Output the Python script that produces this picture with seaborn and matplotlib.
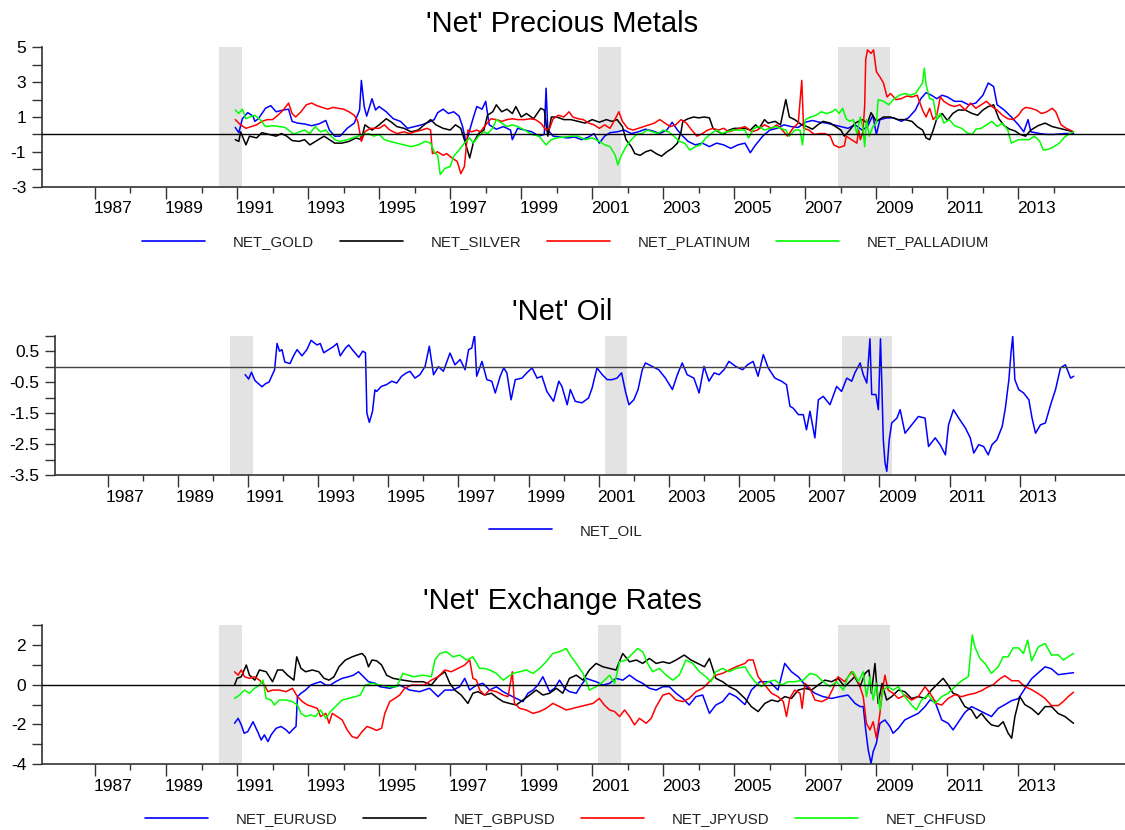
import matplotlib
matplotlib.use("Agg")
import matplotlib.pyplot as plt
import pandas as pd
import seaborn as sns
from matplotlib.lines import Line2D

sns.set_theme(style="ticks")
plt.rcParams['font.family'] = ['Liberation Sans', 'DejaVu Sans']
plt.rcParams['axes.unicode_minus'] = False

# ---------------- data (year, value) ----------------
RECESSION_START = [1990.5, 2001.17, 2007.92]
RECESSION_END = [1991.13, 2001.8, 2009.37]
TICK_YEARS_MAJOR = list(range(1987, 2014, 2))
TICK_YEARS_MINOR = list(range(1988, 2015, 2))
LABEL_YEARS = list(range(1987, 2014, 2))

NET_GOLD = [(1990.95,0.4),(1991.05,0.1),(1991.15,0.9),(1991.3,1.25),(1991.45,1.05),(1991.5,0.75),(1991.6,0.9),(1991.8,1.5),(1991.95,1.65),(1992.1,1.3),(1992.3,1.4),(1992.45,1.45),(1992.55,0.75),(1992.7,0.65),(1992.9,0.6),(1993.1,0.5),(1993.3,0.6),(1993.5,0.8),(1993.6,0.25),(1993.75,-0.1),(1993.9,-0.1),(1994.1,0.35),(1994.3,0.65),(1994.45,1.4),(1994.5,3.1),(1994.58,1.6),(1994.65,1.05),(1994.8,2.05),(1994.9,1.4),(1995.0,1.6),(1995.2,1.3),(1995.4,0.9),(1995.6,0.75),(1995.8,0.35),(1996.0,0.45),(1996.2,0.55),(1996.4,0.7),(1996.55,0.85),(1996.65,1.25),(1996.8,1.45),(1996.95,1.2),(1997.1,1.3),(1997.25,1.05),(1997.35,0.45),(1997.45,-0.5),(1997.55,0.25),(1997.65,0.95),(1997.75,1.6),(1997.9,1.45),(1998.0,1.9),(1998.1,0.55),(1998.3,0.3),(1998.5,0.45),(1998.7,0.25),(1998.75,-0.3),(1998.9,0.35),(1999.1,0.25),(1999.3,0.15),(1999.5,-0.1),(1999.65,0.0),(1999.7,2.65),(1999.75,0.25),(1999.9,-0.1),(2000.1,-0.15),(2000.3,-0.2),(2000.5,-0.15),(2000.7,-0.3),(2000.9,-0.15),(2001.05,0.05),(2001.2,-0.5),(2001.35,-0.1),(2001.5,0.1),(2001.7,0.15),(2001.9,0.25),(2002.1,0.05),(2002.3,0.15),(2002.5,0.3),(2002.7,0.2),(2002.9,0.05),(2003.1,0.25),(2003.25,0.7),(2003.4,0.25),(2003.55,-0.1),(2003.7,-0.4),(2003.9,-0.6),(2004.1,-0.5),(2004.3,-0.7),(2004.5,-0.5),(2004.7,-0.6),(2004.9,-0.8),(2005.1,-0.6),(2005.3,-0.5),(2005.45,-1.05),(2005.6,-0.6),(2005.8,-0.1),(2006.0,0.25),(2006.2,0.35),(2006.4,0.55),(2006.6,0.45),(2006.8,0.4),(2007.0,0.7),(2007.2,0.8),(2007.4,0.7),(2007.6,0.65),(2007.8,0.55),(2008.0,0.45),(2008.2,0.35),(2008.4,0.55),(2008.6,0.25),(2008.75,0.45),(2008.9,1.1),(2009.0,0.0),(2009.1,0.85),(2009.3,0.95),(2009.5,0.95),(2009.7,0.75),(2009.9,0.95),(2010.1,1.4),(2010.25,2.05),(2010.4,2.4),(2010.55,2.25),(2010.7,2.05),(2010.85,2.25),(2011.0,2.15),(2011.2,1.9),(2011.4,1.9),(2011.6,1.7),(2011.8,1.8),(2012.0,2.25),(2012.15,2.95),(2012.3,2.75),(2012.4,1.7),(2012.6,1.4),(2012.8,1.0),(2013.0,0.55),(2013.15,0.15),(2013.27,0.85),(2013.35,0.15),(2013.6,0.05),(2013.8,0.0),(2014.0,0.0),(2014.3,0.05),(2014.55,0.05)]
NET_SILVER = [(1990.95,-0.3),(1991.05,-0.4),(1991.1,0.15),(1991.25,-0.6),(1991.35,-0.1),(1991.55,-0.2),(1991.7,0.1),(1991.9,0.0),(1992.1,-0.1),(1992.25,0.05),(1992.4,-0.1),(1992.55,-0.35),(1992.75,-0.4),(1992.9,-0.3),(1993.05,-0.6),(1993.25,-0.35),(1993.45,-0.1),(1993.6,-0.3),(1993.75,-0.5),(1993.95,-0.5),(1994.15,-0.4),(1994.35,-0.2),(1994.5,-0.3),(1994.6,0.55),(1994.8,0.25),(1995.0,0.55),(1995.2,0.9),(1995.35,0.7),(1995.5,0.45),(1995.7,0.35),(1995.9,0.15),(1996.1,0.25),(1996.3,0.6),(1996.45,0.85),(1996.6,0.55),(1996.8,0.35),(1997.0,0.25),(1997.15,0.55),(1997.3,0.35),(1997.4,-0.3),(1997.55,-1.35),(1997.65,-0.5),(1997.8,0.05),(1997.95,0.25),(1998.05,1.1),(1998.2,1.3),(1998.3,1.7),(1998.45,1.3),(1998.6,1.45),(1998.75,1.2),(1998.85,1.6),(1999.0,1.0),(1999.15,1.2),(1999.35,0.9),(1999.55,1.5),(1999.65,1.4),(1999.75,-0.1),(1999.85,1.0),(2000.0,1.0),(2000.2,0.85),(2000.4,0.85),(2000.6,0.75),(2000.8,0.65),(2001.0,0.85),(2001.2,0.7),(2001.4,0.85),(2001.55,0.75),(2001.7,0.85),(2001.85,0.45),(2001.95,-0.3),(2002.1,-0.7),(2002.2,-1.1),(2002.35,-1.2),(2002.5,-1.0),(2002.65,-0.9),(2002.8,-1.1),(2002.95,-1.25),(2003.1,-1.0),(2003.25,-0.8),(2003.4,-0.5),(2003.5,0.15),(2003.55,0.75),(2003.7,0.9),(2003.85,1.0),(2004.0,0.95),(2004.15,1.0),(2004.3,0.95),(2004.4,0.35),(2004.55,0.15),(2004.7,0.0),(2004.85,0.25),(2005.0,0.35),(2005.3,0.35),(2005.45,0.25),(2005.6,0.55),(2005.7,0.35),(2005.85,0.85),(2005.95,0.65),(2006.15,0.75),(2006.3,0.55),(2006.45,2.0),(2006.55,1.0),(2006.7,0.85),(2006.9,0.55),(2007.05,0.45),(2007.2,0.3),(2007.35,0.55),(2007.5,0.75),(2007.7,0.65),(2007.85,0.45),(2008.0,0.25),(2008.1,-0.1),(2008.25,0.25),(2008.4,0.65),(2008.6,0.85),(2008.75,0.65),(2008.85,1.25),(2009.0,0.75),(2009.2,1.0),(2009.4,1.0),(2009.6,0.85),(2009.8,0.85),(2010.0,0.75),(2010.15,0.45),(2010.3,0.25),(2010.4,-0.2),(2010.5,-0.3),(2010.6,0.25),(2010.7,0.9),(2010.85,1.2),(2011.0,0.8),(2011.15,1.2),(2011.3,1.4),(2011.5,1.4),(2011.7,1.2),(2011.85,1.1),(2012.0,1.4),(2012.15,1.6),(2012.3,1.7),(2012.45,0.9),(2012.6,0.5),(2012.75,0.3),(2012.9,0.2),(2013.05,0.0),(2013.2,-0.1),(2013.35,0.25),(2013.55,0.5),(2013.75,0.65),(2013.95,0.45),(2014.15,0.35),(2014.35,0.25),(2014.55,0.15)]
NET_PLATINUM = [(1990.95,0.85),(1991.1,0.55),(1991.25,0.35),(1991.4,0.45),(1991.55,0.55),(1991.7,0.75),(1991.85,0.85),(1992.0,0.85),(1992.15,1.1),(1992.3,1.4),(1992.45,1.8),(1992.55,1.2),(1992.65,1.0),(1992.8,1.3),(1992.95,1.7),(1993.1,1.8),(1993.25,1.65),(1993.4,1.55),(1993.55,1.45),(1993.7,1.55),(1993.85,1.5),(1994.0,1.45),(1994.15,1.3),(1994.3,1.1),(1994.4,0.75),(1994.5,-0.4),(1994.6,0.15),(1994.75,0.35),(1995.0,0.35),(1995.15,0.55),(1995.3,0.25),(1995.5,0.05),(1995.7,0.15),(1995.85,0.05),(1996.0,0.15),(1996.2,0.25),(1996.35,0.35),(1996.45,0.25),(1996.5,-1.1),(1996.65,-1.0),(1996.8,-1.2),(1996.9,-1.1),(1997.05,-1.35),(1997.2,-1.55),(1997.3,-2.25),(1997.4,-1.85),(1997.5,0.25),(1997.6,0.15),(1997.75,0.25),(1997.85,0.15),(1998.0,0.55),(1998.15,0.9),(1998.3,0.85),(1998.45,0.75),(1998.6,0.85),(1998.75,0.9),(1998.9,0.85),(1999.1,0.85),(1999.25,0.9),(1999.4,0.85),(1999.55,0.65),(1999.7,0.25),(1999.8,0.35),(1999.9,0.9),(2000.05,1.1),(2000.2,1.0),(2000.35,1.3),(2000.45,1.0),(2000.6,0.9),(2000.75,0.85),(2000.9,0.65),(2001.05,0.55),(2001.2,0.35),(2001.35,0.55),(2001.5,0.35),(2001.65,0.9),(2001.75,1.3),(2001.85,0.75),(2002.0,0.35),(2002.15,0.25),(2002.3,0.35),(2002.45,0.45),(2002.6,0.55),(2002.75,0.65),(2002.9,0.85),(2003.05,0.65),(2003.2,0.45),(2003.35,0.55),(2003.5,0.85),(2003.65,0.65),(2003.8,0.25),(2003.95,-0.1),(2004.1,0.05),(2004.25,0.25),(2004.4,0.35),(2004.55,0.25),(2004.7,0.35),(2004.85,0.15),(2005.0,0.25),(2005.3,0.45),(2005.5,0.15),(2005.65,0.25),(2005.85,0.55),(2006.05,0.35),(2006.2,0.55),(2006.35,0.25),(2006.5,-0.1),(2006.65,0.35),(2006.8,0.65),(2006.9,3.1),(2006.95,0.35),(2007.1,0.25),(2007.25,0.0),(2007.4,0.05),(2007.55,0.05),(2007.7,-0.1),(2007.8,-0.6),(2007.95,-0.75),(2008.1,-0.65),(2008.15,-0.1),(2008.3,-0.3),(2008.45,-0.5),(2008.5,0.25),(2008.55,-0.3),(2008.62,0.15),(2008.67,1.6),(2008.7,4.3),(2008.75,4.85),(2008.85,4.65),(2008.92,4.85),(2009.0,3.6),(2009.1,3.3),(2009.2,2.95),(2009.3,2.15),(2009.4,2.35),(2009.55,2.0),(2009.7,2.05),(2009.85,2.2),(2010.0,2.15),(2010.15,2.25),(2010.3,1.4),(2010.4,1.0),(2010.5,1.5),(2010.6,0.85),(2010.7,1.1),(2010.8,2.15),(2010.9,1.9),(2011.05,1.7),(2011.2,1.6),(2011.35,1.7),(2011.5,1.4),(2011.65,1.8),(2011.8,1.5),(2011.95,1.7),(2012.1,1.9),(2012.25,1.6),(2012.4,1.4),(2012.55,1.1),(2012.7,0.9),(2012.85,0.85),(2013.0,1.1),(2013.1,1.4),(2013.2,1.55),(2013.35,1.5),(2013.5,1.4),(2013.65,1.2),(2013.8,1.3),(2013.95,1.5),(2014.05,1.3),(2014.2,0.55),(2014.35,0.35),(2014.55,0.15)]
NET_PALLADIUM = [(1990.95,1.4),(1991.0,1.3),(1991.05,1.2),(1991.15,1.45),(1991.25,0.9),(1991.35,1.0),(1991.5,1.1),(1991.65,0.85),(1991.8,0.45),(1992.0,0.5),(1992.2,0.45),(1992.35,0.4),(1992.45,0.25),(1992.6,0.0),(1992.75,0.15),(1992.9,0.25),(1993.05,0.05),(1993.2,0.45),(1993.35,0.15),(1993.5,0.25),(1993.6,0.0),(1993.75,-0.3),(1993.9,-0.4),(1994.1,-0.3),(1994.25,-0.2),(1994.4,-0.1),(1994.55,0.0),(1994.7,0.05),(1994.85,-0.1),(1995.0,0.0),(1995.15,-0.3),(1995.3,-0.4),(1995.5,-0.5),(1995.7,-0.6),(1995.9,-0.7),(1996.1,-0.6),(1996.3,-0.4),(1996.45,-0.5),(1996.55,-1.0),(1996.65,-1.2),(1996.72,-2.3),(1996.85,-1.95),(1997.0,-1.85),(1997.1,-1.25),(1997.25,-0.9),(1997.4,-0.5),(1997.55,-0.2),(1997.65,-0.5),(1997.8,-0.1),(1997.95,0.15),(1998.05,0.05),(1998.2,0.35),(1998.3,0.85),(1998.45,0.65),(1998.6,0.45),(1998.75,0.55),(1998.9,0.45),(1999.1,0.25),(1999.3,0.0),(1999.5,-0.1),(1999.7,-0.6),(1999.85,-0.3),(2000.0,-0.2),(2000.2,-0.15),(2000.4,-0.1),(2000.6,-0.1),(2000.8,-0.3),(2001.0,-0.2),(2001.2,-0.4),(2001.35,-0.6),(2001.5,-0.7),(2001.65,-1.2),(2001.72,-1.75),(2001.8,-1.3),(2001.95,-0.7),(2002.1,-0.3),(2002.25,0.0),(2002.4,0.05),(2002.55,0.25),(2002.7,0.15),(2002.85,0.05),(2003.0,0.25),(2003.15,0.15),(2003.3,-0.1),(2003.45,-0.4),(2003.6,-0.5),(2003.75,-0.9),(2003.9,-0.7),(2004.05,-0.6),(2004.2,-0.2),(2004.35,0.05),(2004.5,0.25),(2004.65,0.05),(2004.8,0.15),(2004.95,0.25),(2005.3,0.25),(2005.4,-0.2),(2005.55,0.35),(2005.7,0.45),(2005.85,0.25),(2006.0,0.35),(2006.15,0.45),(2006.3,0.35),(2006.45,0.25),(2006.55,-0.1),(2006.7,0.25),(2006.85,0.25),(2006.92,-0.6),(2007.0,0.85),(2007.15,1.0),(2007.3,1.1),(2007.45,1.3),(2007.6,1.2),(2007.75,1.3),(2007.85,1.45),(2007.95,1.2),(2008.05,1.5),(2008.15,0.9),(2008.25,0.75),(2008.35,0.85),(2008.45,0.05),(2008.55,1.0),(2008.62,0.35),(2008.67,-0.7),(2008.72,0.85),(2008.8,-0.1),(2008.9,0.45),(2009.0,0.65),(2009.05,2.0),(2009.2,1.9),(2009.35,1.7),(2009.5,2.05),(2009.65,2.25),(2009.8,2.35),(2009.95,2.25),(2010.1,2.35),(2010.2,2.65),(2010.3,2.95),(2010.35,3.8),(2010.4,2.85),(2010.5,2.05),(2010.6,2.0),(2010.7,0.85),(2010.8,1.2),(2010.9,0.65),(2011.05,0.85),(2011.2,0.5),(2011.4,0.35),(2011.55,0.1),(2011.7,0.0),(2011.8,0.3),(2011.95,0.35),(2012.1,0.55),(2012.25,0.75),(2012.4,0.45),(2012.55,0.65),(2012.7,0.25),(2012.8,-0.5),(2013.0,-0.3),(2013.15,-0.3),(2013.3,-0.3),(2013.45,-0.1),(2013.6,-0.4),(2013.7,-0.9),(2013.85,-0.85),(2014.0,-0.7),(2014.15,-0.5),(2014.3,-0.15),(2014.45,0.05),(2014.55,0.15)]

NET_OIL = [(1990.92,-0.26),(1991.02,-0.4),(1991.1,-0.18),(1991.2,-0.45),(1991.4,-0.65),(1991.5,-0.55),(1991.6,-0.5),(1991.68,-0.3),(1991.76,-0.1),(1991.83,0.75),(1991.9,0.5),(1991.97,0.55),(1992.05,0.15),(1992.2,0.1),(1992.3,0.35),(1992.4,0.55),(1992.54,0.35),(1992.68,0.55),(1992.8,0.85),(1992.97,0.7),(1993.06,0.75),(1993.16,0.45),(1993.3,0.55),(1993.44,0.65),(1993.54,0.75),(1993.63,0.35),(1993.78,0.6),(1993.87,0.7),(1994.01,0.5),(1994.16,0.3),(1994.27,0.5),(1994.35,0.45),(1994.39,-1.5),(1994.46,-1.8),(1994.55,-1.45),(1994.62,-0.75),(1994.67,-0.8),(1994.8,-0.64),(1994.95,-0.58),(1995.1,-0.47),(1995.24,-0.53),(1995.38,-0.31),(1995.52,-0.2),(1995.62,-0.15),(1995.76,-0.37),(1995.9,-0.26),(1996.05,0.01),(1996.17,0.66),(1996.29,-0.26),(1996.43,0.0),(1996.57,-0.15),(1996.76,0.44),(1996.9,0.06),(1997.05,0.23),(1997.19,-0.1),(1997.29,0.55),(1997.38,0.6),(1997.46,1.03),(1997.52,-0.31),(1997.67,0.17),(1997.81,-0.42),(1997.95,-0.47),(1998.05,-0.85),(1998.19,-0.31),(1998.29,-0.04),(1998.38,-0.2),(1998.5,-1.07),(1998.62,-0.42),(1998.81,-0.37),(1998.95,-0.2),(1999.1,-0.04),(1999.24,-0.37),(1999.38,-0.31),(1999.52,-0.8),(1999.71,-1.12),(1999.86,-0.47),(1999.95,-0.64),(2000.1,-1.23),(2000.19,-0.74),(2000.33,-1.12),(2000.52,-1.17),(2000.71,-1.01),(2000.81,-0.69),(2000.95,-0.04),(2001.1,-0.26),(2001.24,-0.42),(2001.38,-0.42),(2001.52,-0.37),(2001.65,-0.2),(2001.76,-0.8),(2001.86,-1.23),(2002.0,-1.07),(2002.12,-0.74),(2002.24,-0.1),(2002.33,0.12),(2002.52,0.01),(2002.71,-0.1),(2002.9,-0.37),(2003.1,-0.74),(2003.24,-0.26),(2003.38,0.12),(2003.52,-0.26),(2003.71,-0.37),(2003.86,-0.85),(2004.0,0.01),(2004.14,-0.47),(2004.29,-0.2),(2004.43,-0.26),(2004.57,-0.1),(2004.71,0.17),(2004.9,0.01),(2005.1,-0.1),(2005.24,0.06),(2005.4,0.17),(2005.54,-0.31),(2005.69,0.39),(2005.83,-0.04),(2006.02,-0.37),(2006.21,-0.47),(2006.35,-0.58),(2006.45,-1.28),(2006.54,-1.34),(2006.69,-1.55),(2006.83,-1.55),(2006.92,-2.04),(2007.02,-1.44),(2007.16,-2.3),(2007.26,-1.07),(2007.4,-0.96),(2007.59,-1.23),(2007.78,-0.64),(2007.92,-0.8),(2008.07,-0.37),(2008.21,-0.47),(2008.3,-0.2),(2008.45,0.12),(2008.54,-0.26),(2008.64,-0.53),(2008.73,0.9),(2008.78,-0.9),(2008.9,-0.9),(2008.97,-1.39),(2009.03,0.9),(2009.07,-0.64),(2009.11,-2.36),(2009.16,-3.11),(2009.21,-3.38),(2009.28,-2.36),(2009.35,-1.82),(2009.5,-1.66),(2009.59,-1.39),(2009.73,-2.15),(2009.92,-1.88),(2010.11,-1.61),(2010.3,-1.66),(2010.4,-2.58),(2010.59,-2.3),(2010.73,-2.52),(2010.88,-2.85),(2010.97,-1.88),(2011.11,-1.39),(2011.26,-1.66),(2011.45,-1.98),(2011.59,-2.3),(2011.69,-2.79),(2011.83,-2.52),(2011.97,-2.58),(2012.1,-2.85),(2012.21,-2.52),(2012.35,-2.36),(2012.5,-1.93),(2012.59,-1.34),(2012.69,-0.42),(2012.75,0.44),(2012.8,0.98),(2012.86,-0.42),(2012.97,-0.74),(2013.11,-0.85),(2013.26,-1.07),(2013.35,-1.66),(2013.45,-2.15),(2013.59,-1.88),(2013.73,-1.82),(2013.88,-1.23),(2014.02,-0.74),(2014.16,-0.04),(2014.3,0.06),(2014.45,-0.37),(2014.54,-0.31)]

NET_EURUSD = [(1990.93,-1.94),(1991.03,-1.69),(1991.12,-2.02),(1991.2,-2.44),(1991.3,-2.36),(1991.45,-1.86),(1991.6,-2.44),(1991.68,-2.78),(1991.77,-2.52),(1991.87,-2.86),(1991.96,-2.52),(1992.1,-2.19),(1992.24,-2.1),(1992.38,-2.27),(1992.47,-2.44),(1992.56,-2.27),(1992.66,-2.1),(1992.7,-0.6),(1992.8,-0.43),(1992.93,-0.27),(1993.07,-0.02),(1993.21,0.07),(1993.35,0.15),(1993.5,-0.02),(1993.63,-0.02),(1993.77,0.15),(1993.96,0.32),(1994.14,0.4),(1994.28,0.48),(1994.42,0.65),(1994.56,0.4),(1994.7,0.15),(1994.89,0.07),(1995.02,-0.1),(1995.3,-0.18),(1995.58,-0.02),(1995.86,-0.27),(1996.14,-0.35),(1996.42,-0.18),(1996.66,-0.6),(1996.85,-0.27),(1997.08,-0.27),(1997.27,-0.1),(1997.41,0.32),(1997.55,-0.27),(1997.74,-0.02),(1997.92,0.07),(1998.11,-0.27),(1998.3,-0.1),(1998.49,-0.35),(1998.67,-0.52),(1998.86,-0.69),(1999.05,-0.85),(1999.19,-0.43),(1999.33,-0.27),(1999.47,-0.02),(1999.61,0.4),(1999.8,-0.35),(1999.94,-0.18),(2000.08,0.23),(2000.22,-0.18),(2000.36,-0.35),(2000.55,-0.43),(2000.69,-0.02),(2000.83,0.32),(2000.97,0.23),(2001.11,0.15),(2001.3,-0.02),(2001.49,0.07),(2001.67,0.32),(2001.86,0.23),(2002.05,0.48),(2002.24,0.23),(2002.42,0.07),(2002.61,-0.18),(2002.8,-0.27),(2002.99,-0.1),(2003.17,-0.1),(2003.36,-0.43),(2003.55,-0.69),(2003.73,-1.02),(2003.92,-0.6),(2004.11,-0.52),(2004.3,-1.44),(2004.48,-1.02),(2004.67,-0.85),(2004.86,-0.43),(2005.05,-0.6),(2005.3,-1.0),(2005.48,-0.27),(2005.72,0.15),(2006.0,0.15),(2006.23,-0.27),(2006.42,1.07),(2006.61,0.65),(2006.8,0.4),(2007.03,-0.1),(2007.27,-0.43),(2007.5,-0.6),(2007.74,-0.69),(2007.97,-0.6),(2008.2,-0.52),(2008.4,-0.94),(2008.54,-1.1),(2008.63,-1.1),(2008.7,-2.27),(2008.77,-3.28),(2008.85,-3.95),(2008.91,-3.36),(2009.0,-2.94),(2009.1,-1.94),(2009.24,-1.77),(2009.38,-2.1),(2009.47,-2.44),(2009.62,-2.19),(2009.8,-1.77),(2009.99,-1.6),(2010.18,-1.44),(2010.37,-1.1),(2010.51,-0.77),(2010.65,-0.85),(2010.84,-1.77),(2011.02,-1.94),(2011.16,-2.27),(2011.3,-1.9),(2011.49,-1.4),(2011.68,-1.1),(2011.87,-1.27),(2012.06,-1.44),(2012.24,-1.6),(2012.43,-1.19),(2012.62,-1.0),(2012.81,-0.8),(2013.0,-0.7),(2013.18,-0.2),(2013.37,0.3),(2013.56,0.6),(2013.75,0.9),(2013.93,0.8),(2014.12,0.5),(2014.31,0.55),(2014.55,0.6)]
NET_GBPUSD = [(1990.93,-0.02),(1991.0,0.32),(1991.12,0.4),(1991.26,0.99),(1991.35,0.48),(1991.5,0.23),(1991.63,0.74),(1991.82,0.65),(1992.0,0.15),(1992.14,0.74),(1992.28,0.74),(1992.42,0.48),(1992.6,0.23),(1992.68,1.4),(1992.8,0.82),(1992.93,0.65),(1993.12,0.74),(1993.3,0.65),(1993.45,0.32),(1993.59,0.23),(1993.73,0.4),(1993.87,0.9),(1994.05,1.24),(1994.24,1.4),(1994.38,1.49),(1994.52,1.57),(1994.61,1.4),(1994.7,0.9),(1994.8,1.24),(1994.93,1.2),(1995.07,0.99),(1995.21,0.48),(1995.39,0.32),(1995.67,0.23),(1995.96,0.15),(1996.24,0.15),(1996.47,-0.02),(1996.66,0.4),(1996.85,0.65),(1996.99,0.07),(1997.13,-0.27),(1997.31,-0.52),(1997.5,-0.94),(1997.64,-0.43),(1997.78,-0.35),(1997.97,-0.52),(1998.16,-0.43),(1998.35,-0.69),(1998.49,-0.85),(1998.67,-0.94),(1998.86,-1.02),(1999.05,-0.77),(1999.24,-0.52),(1999.42,-0.27),(1999.61,-0.52),(1999.8,-0.43),(1999.99,-0.18),(2000.17,-0.43),(2000.36,0.32),(2000.55,0.48),(2000.74,0.23),(2000.92,0.74),(2001.11,1.07),(2001.3,0.9),(2001.49,0.82),(2001.67,0.74),(2001.86,1.57),(2002.05,1.15),(2002.24,1.24),(2002.42,1.07),(2002.61,1.32),(2002.8,1.07),(2002.99,1.15),(2003.17,1.07),(2003.36,1.24),(2003.59,1.49),(2003.78,1.24),(2003.97,1.07),(2004.16,0.9),(2004.3,1.32),(2004.48,0.32),(2004.67,0.15),(2004.86,-0.1),(2005.05,-0.27),(2005.3,-0.69),(2005.48,-1.1),(2005.67,-1.35),(2005.86,-0.94),(2006.05,-0.77),(2006.23,-0.85),(2006.42,-0.6),(2006.61,-0.69),(2006.8,-0.27),(2006.99,-0.18),(2007.17,-0.27),(2007.36,-0.02),(2007.55,0.23),(2007.74,0.15),(2007.92,0.32),(2008.11,-0.1),(2008.25,0.15),(2008.39,0.4),(2008.54,-0.1),(2008.68,0.57),(2008.79,0.74),(2008.86,-0.43),(2008.96,1.07),(2009.05,-0.94),(2009.16,0.07),(2009.29,-0.77),(2009.43,-0.6),(2009.62,-0.27),(2009.8,-0.35),(2009.99,-0.69),(2010.18,-0.6),(2010.37,-0.69),(2010.55,-0.27),(2010.74,0.07),(2010.88,0.32),(2011.02,-0.02),(2011.16,-0.43),(2011.3,-0.52),(2011.49,-1.1),(2011.68,-1.27),(2011.82,-1.69),(2011.96,-1.44),(2012.1,-1.77),(2012.24,-2.02),(2012.43,-2.1),(2012.57,-1.86),(2012.71,-2.44),(2012.81,-2.69),(2012.9,-1.6),(2013.04,-0.6),(2013.18,-1.0),(2013.37,-1.2),(2013.56,-1.5),(2013.75,-1.1),(2013.93,-1.1),(2014.12,-1.45),(2014.31,-1.6),(2014.55,-1.94)]
NET_JPYUSD = [(1990.93,0.65),(1991.03,0.48),(1991.12,0.74),(1991.21,0.4),(1991.35,0.32),(1991.49,0.4),(1991.63,0.23),(1991.77,-0.02),(1991.87,-0.35),(1992.0,-0.27),(1992.19,-0.27),(1992.38,-0.35),(1992.56,-0.18),(1992.7,-0.6),(1992.84,-0.85),(1992.98,-1.02),(1993.12,-1.1),(1993.26,-1.19),(1993.35,-1.6),(1993.5,-1.44),(1993.59,-1.94),(1993.68,-1.44),(1993.82,-1.6),(1993.96,-1.77),(1994.1,-2.27),(1994.24,-2.61),(1994.38,-2.69),(1994.52,-2.36),(1994.66,-2.1),(1994.8,-2.19),(1994.93,-2.3),(1995.07,-2.19),(1995.16,-1.44),(1995.3,-0.85),(1995.44,-0.69),(1995.58,-0.52),(1995.72,-0.18),(1995.91,-0.02),(1996.1,-0.02),(1996.28,-0.02),(1996.47,0.23),(1996.66,0.4),(1996.85,0.74),(1997.03,0.65),(1997.22,0.82),(1997.41,0.99),(1997.55,1.24),(1997.64,0.32),(1997.74,0.23),(1997.83,-0.27),(1997.97,-0.52),(1998.11,-0.27),(1998.3,-0.35),(1998.49,-0.52),(1998.63,-0.6),(1998.75,0.65),(1998.81,-0.94),(1998.96,-1.19),(1999.14,-1.27),(1999.33,-1.44),(1999.52,-1.35),(1999.7,-1.19),(1999.89,-0.94),(2000.08,-1.1),(2000.27,-1.27),(2000.45,-1.19),(2000.64,-1.1),(2000.83,-1.02),(2001.02,-0.94),(2001.2,-0.69),(2001.34,-1.02),(2001.49,-1.27),(2001.63,-1.35),(2001.77,-1.6),(2001.91,-1.27),(2002.05,-1.6),(2002.19,-2.02),(2002.33,-1.69),(2002.52,-1.94),(2002.66,-1.69),(2002.8,-1.1),(2002.99,-0.52),(2003.17,-0.43),(2003.36,-0.77),(2003.55,-0.85),(2003.73,-0.69),(2003.92,-0.35),(2004.11,-0.18),(2004.3,0.15),(2004.48,0.48),(2004.67,0.57),(2004.86,0.74),(2005.05,0.9),(2005.3,1.07),(2005.39,1.24),(2005.53,1.24),(2005.67,0.4),(2005.86,-0.02),(2006.05,-0.43),(2006.23,-0.6),(2006.38,-0.85),(2006.47,-1.6),(2006.56,-0.69),(2006.7,-0.27),(2006.85,-0.43),(2006.91,-1.19),(2006.99,0.07),(2007.13,-0.18),(2007.27,-0.77),(2007.46,-0.85),(2007.64,-0.69),(2007.78,-0.18),(2007.92,0.4),(2008.11,0.15),(2008.3,0.65),(2008.49,0.15),(2008.63,-0.6),(2008.72,-1.94),(2008.82,-2.27),(2008.91,-1.86),(2009.0,-2.69),(2009.1,-1.44),(2009.16,-0.43),(2009.24,0.48),(2009.33,-0.27),(2009.47,-0.43),(2009.62,-0.69),(2009.8,-0.52),(2009.99,-0.77),(2010.18,-0.6),(2010.37,-0.1),(2010.51,-0.43),(2010.69,-0.94),(2010.84,-1.02),(2011.02,-0.69),(2011.21,-0.5),(2011.4,-0.6),(2011.59,-0.5),(2011.78,-0.43),(2011.96,-0.3),(2012.15,-0.1),(2012.29,0.0),(2012.48,0.3),(2012.62,0.45),(2012.81,0.2),(2013.0,0.2),(2013.18,-0.1),(2013.37,-0.25),(2013.56,-0.45),(2013.75,-0.69),(2013.93,-1.05),(2014.12,-1.05),(2014.26,-0.85),(2014.4,-0.6),(2014.55,-0.38)]
NET_CHFUSD = [(1990.93,-0.69),(1991.07,-0.52),(1991.21,-0.27),(1991.35,-0.43),(1991.49,-0.18),(1991.63,-0.02),(1991.73,0.23),(1991.82,-0.69),(1991.96,-0.77),(1992.05,-1.02),(1992.19,-0.77),(1992.38,-0.77),(1992.56,-0.85),(1992.7,-1.02),(1992.8,-1.44),(1992.93,-1.6),(1993.07,-1.52),(1993.21,-1.6),(1993.35,-1.27),(1993.5,-1.69),(1993.63,-1.35),(1993.77,-1.1),(1993.96,-0.77),(1994.14,-0.69),(1994.33,-0.6),(1994.47,-0.52),(1994.61,-0.02),(1994.8,0.07),(1995.02,-0.02),(1995.3,-0.1),(1995.49,-0.1),(1995.67,0.57),(1995.96,0.4),(1996.24,0.48),(1996.47,0.4),(1996.57,1.24),(1996.71,1.57),(1996.89,1.66),(1997.08,1.4),(1997.27,1.49),(1997.46,1.24),(1997.64,1.4),(1997.83,0.82),(1997.97,0.82),(1998.11,0.74),(1998.3,0.57),(1998.49,0.23),(1998.63,0.4),(1998.77,0.57),(1998.96,0.65),(1999.14,0.74),(1999.33,0.57),(1999.52,0.82),(1999.7,1.15),(1999.89,1.57),(2000.08,1.66),(2000.27,1.82),(2000.41,1.4),(2000.55,1.07),(2000.74,0.57),(2000.92,-0.27),(2001.11,-0.1),(2001.3,0.15),(2001.49,0.48),(2001.63,0.07),(2001.77,1.15),(2001.95,1.24),(2002.14,1.57),(2002.28,1.82),(2002.42,1.66),(2002.56,1.07),(2002.7,0.65),(2002.89,0.82),(2003.08,0.48),(2003.27,0.23),(2003.45,0.48),(2003.64,1.24),(2003.83,1.07),(2004.02,0.65),(2004.2,0.4),(2004.34,0.15),(2004.48,0.65),(2004.67,0.82),(2004.86,0.65),(2005.05,0.82),(2005.3,0.9),(2005.44,0.48),(2005.58,0.15),(2005.77,-0.1),(2005.95,0.15),(2006.14,0.23),(2006.33,-0.02),(2006.52,0.15),(2006.7,0.15),(2006.94,0.23),(2007.13,0.57),(2007.31,0.48),(2007.5,0.15),(2007.69,-0.1),(2007.88,0.15),(2008.07,-0.27),(2008.2,0.4),(2008.35,0.65),(2008.49,0.15),(2008.63,0.65),(2008.72,-0.6),(2008.82,0.4),(2008.91,-0.77),(2009.0,0.07),(2009.1,-1.27),(2009.19,-0.27),(2009.33,-0.1),(2009.47,-0.27),(2009.62,-0.1),(2009.8,-0.6),(2009.99,-1.02),(2010.13,-1.27),(2010.27,-0.77),(2010.46,-0.52),(2010.65,-0.94),(2010.84,-0.6),(2011.02,-0.43),(2011.21,-0.1),(2011.4,0.2),(2011.59,0.4),(2011.7,2.5),(2011.77,1.91),(2011.92,1.3),(2012.06,1.07),(2012.24,0.57),(2012.43,0.9),(2012.57,1.4),(2012.71,1.4),(2012.85,1.85),(2013.0,1.85),(2013.14,1.57),(2013.26,2.24),(2013.37,1.2),(2013.56,1.9),(2013.75,2.07),(2013.93,1.49),(2014.12,1.5),(2014.26,1.24),(2014.4,1.4),(2014.55,1.57)]

METALS_NAMES = ["NET_GOLD", "NET_SILVER", "NET_PLATINUM", "NET_PALLADIUM"]
OIL_NAMES = ["NET_OIL"]
FX_NAMES = ["NET_EURUSD", "NET_GBPUSD", "NET_JPYUSD", "NET_CHFUSD"]
COLORS4 = ["#0000ff", "#000000", "#ff0000", "#00ff00"]

P1_YTICKS = [-3, -2, -1, 0, 1, 2, 3, 4, 5]
P1_YLABELS = ["-3", "", "-1", "", "1", "", "3", "", "5"]
P2_YTICKS = [-3.5, -3.0, -2.5, -2.0, -1.5, -1.0, -0.5, 0.0, 0.5, 1.0]
P2_YLABELS = ["-3.5", "", "-2.5", "", "-1.5", "", "-0.5", "", "0.5", ""]
P3_YTICKS = [-4, -3, -2, -1, 0, 1, 2, 3]
P3_YLABELS = ["-4", "", "-2", "", "0", "", "2", ""]


def to_frame(names, series_list):
    rows = []
    for name, pairs in zip(names, series_list):
        for t, v in pairs:
            rows.append((name, t, v))
    return pd.DataFrame(rows, columns=["series", "year", "value"])


W, H = 1125, 830
fig = plt.figure(figsize=(W / 100, H / 100), dpi=100)
AX_COLOR = "#333333"


def panel(left_px, top_px, bottom_px, df, names, colors, ylim, yticks, ylabels,
          title, title_base_px, legend_y_px, zero_color="black"):
    rect = [left_px / W, 1 - bottom_px / H, (W - left_px) / W, (bottom_px - top_px) / H]
    ax = fig.add_axes(rect)
    for s, e in zip(RECESSION_START, RECESSION_END):
        ax.axvspan(s, e, color="#e3e3e3", lw=0, zorder=0)
    sns.lineplot(data=df, x="year", y="value", hue="series", hue_order=names,
                 palette=colors, estimator=None, linewidth=1.1, legend=False,
                 ax=ax, zorder=2)
    ax.axhline(0, color=zero_color, lw=1.0, zorder=3)
    ax.set_xlim(1985.5, 2016.0)
    ax.set_ylim(*ylim)
    ax.set_xlabel("")
    ax.set_ylabel("")
    for sp in ["top", "right"]:
        ax.spines[sp].set_visible(False)
    for sp in ["left", "bottom"]:
        ax.spines[sp].set_color(AX_COLOR)
        ax.spines[sp].set_linewidth(1.2)
    ax.set_yticks(yticks, labels=ylabels)
    ax.tick_params(axis="y", direction="out", length=7.2, width=1.0, color=AX_COLOR,
                   labelsize=12.5, pad=4, left=True, labelcolor="black")
    ax.set_xticks(TICK_YEARS_MAJOR)
    ax.set_xticks(TICK_YEARS_MINOR, minor=True)
    ax.tick_params(axis="x", which="major", direction="out", length=8.4, width=1.0,
                   color=AX_COLOR, labelbottom=False, bottom=True)
    ax.tick_params(axis="x", which="minor", direction="out", length=4.3, width=1.0,
                   color=AX_COLOR, labelbottom=False, bottom=True)
    sec = ax.secondary_xaxis("bottom")
    sec.set_xticks([y + 0.5 for y in LABEL_YEARS], labels=[str(y) for y in LABEL_YEARS])
    sec.tick_params(length=0, pad=10.5, labelsize=12.5, labelcolor="black")
    sec.spines["bottom"].set_visible(False)

    fig.text(0.5, 1 - title_base_px / H, title, ha="center", va="baseline",
             fontsize=21, color="black")
    handles = [Line2D([0], [0], color=c, lw=1.2) for c in colors]
    leg = fig.legend(handles, names, loc="center", bbox_to_anchor=(0.503, 1 - legend_y_px / H),
                     ncol=len(names), frameon=False, fontsize=10.8, handlelength=4.2,
                     handletextpad=1.85, columnspacing=1.7)
    for t in leg.get_texts():
        t.set_color("#222222")
    return ax


df1 = to_frame(METALS_NAMES, [NET_GOLD, NET_SILVER, NET_PLATINUM, NET_PALLADIUM])
df2 = to_frame(OIL_NAMES, [NET_OIL])
df3 = to_frame(FX_NAMES, [NET_EURUSD, NET_GBPUSD, NET_JPYUSD, NET_CHFUSD])

panel(41.7, 47.3, 186.7, df1, METALS_NAMES, COLORS4, (-3, 5), P1_YTICKS, P1_YLABELS,
      "'Net' Precious Metals", 31.5, 242)
panel(55.0, 335.7, 475.0, df2, OIL_NAMES, ["#0000ff"], (-3.5, 1.0), P2_YTICKS, P2_YLABELS,
      "'Net' Oil", 320, 530.7, zero_color="#444444")
panel(41.7, 625.0, 764.3, df3, FX_NAMES, COLORS4, (-4, 3), P3_YTICKS, P3_YLABELS,
      "'Net' Exchange Rates", 609, 819.3)

fig.savefig("out.png", dpi=100, facecolor="white")
